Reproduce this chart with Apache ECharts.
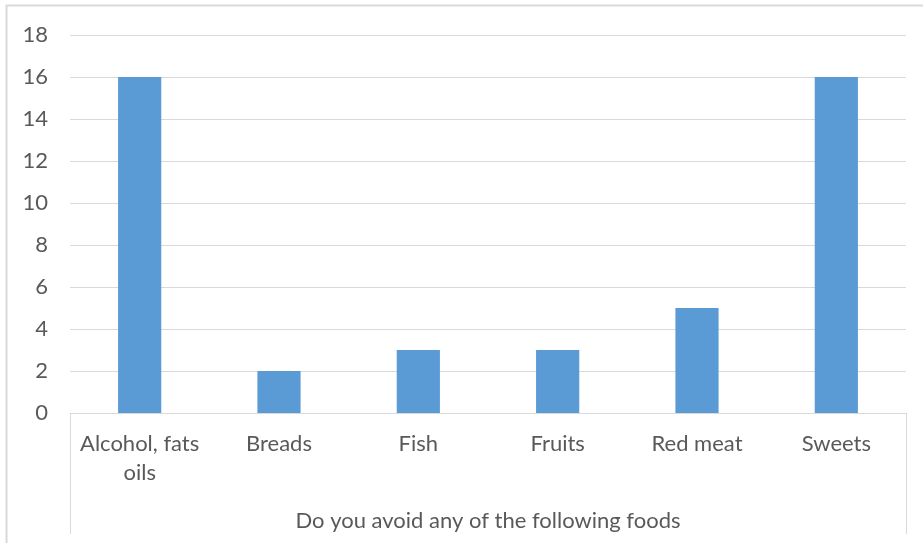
<!DOCTYPE html>
<html>
<head>
<meta charset="utf-8">
<script src="https://cdn.jsdelivr.net/npm/echarts@6/dist/echarts.min.js"></script>
<style>
  html, body { margin: 0; padding: 0; background: #fff; }
  #chart { width: 923px; height: 543px; }
</style>
</head>
<body>
<div id="chart"></div>
<script>
// Food avoidance survey: answers per food group
const categories = ['Alcohol, fats\noils', 'Breads', 'Fish', 'Fruits', 'Red meat', 'Sweets'];
const counts = [16, 2, 3, 3, 5, 16];
const groupTitle = 'Do you avoid any of the following foods';
const yMin = 0, yMax = 18, yStep = 2;

const W = 923, H = 543;
const G = { left: 70, right: 17, top: 35, bottom: 130 };
const FONT = 'Lato';
const TEXT = '#595959';
const LINE = '#d9d9d9';

const chart = echarts.init(document.getElementById('chart'), null, { renderer: 'canvas' });

const baseY = H - G.bottom;
const frameBottom = 534;

chart.setOption({
  animation: false,
  backgroundColor: '#fff',
  textStyle: { fontFamily: FONT },
  grid: { left: G.left, right: G.right, top: G.top, bottom: G.bottom, containLabel: false },
  xAxis: {
    type: 'category',
    data: categories,
    boundaryGap: true,
    axisLine: { show: true, lineStyle: { color: LINE, width: 1 } },
    axisTick: { show: false },
    axisLabel: { color: TEXT, fontSize: 22, fontFamily: FONT, lineHeight: 29, margin: 16, interval: 0 },
    name: groupTitle,
    nameLocation: 'middle',
    nameGap: 97,
    nameTextStyle: { color: TEXT, fontSize: 22, fontFamily: FONT }
  },
  yAxis: {
    type: 'value',
    min: yMin, max: yMax, interval: yStep,
    axisLine: { show: false },
    axisTick: { show: false },
    splitLine: { lineStyle: { color: LINE, width: 1 } },
    axisLabel: { color: TEXT, fontSize: 22, fontFamily: FONT, margin: 22 }
  },
  series: [{
    type: 'bar',
    data: counts,
    barWidth: '31%',
    itemStyle: { color: '#5b9bd5' }
  }],
  graphic: [
    // outer chart border
    { type: 'rect', shape: { x: 6.5, y: 5.5, width: W + 20, height: H + 20 },
      style: { fill: null, stroke: LINE, lineWidth: 2 }, silent: true },
    // multi-level category frame sides
    { type: 'line', shape: { x1: G.left + 0.5, y1: baseY, x2: G.left + 0.5, y2: frameBottom },
      style: { stroke: LINE, lineWidth: 1 }, silent: true },
    { type: 'line', shape: { x1: W - G.right + 0.5, y1: baseY, x2: W - G.right + 0.5, y2: frameBottom },
      style: { stroke: LINE, lineWidth: 1 }, silent: true }
  ]
});
</script>
</body>
</html>
